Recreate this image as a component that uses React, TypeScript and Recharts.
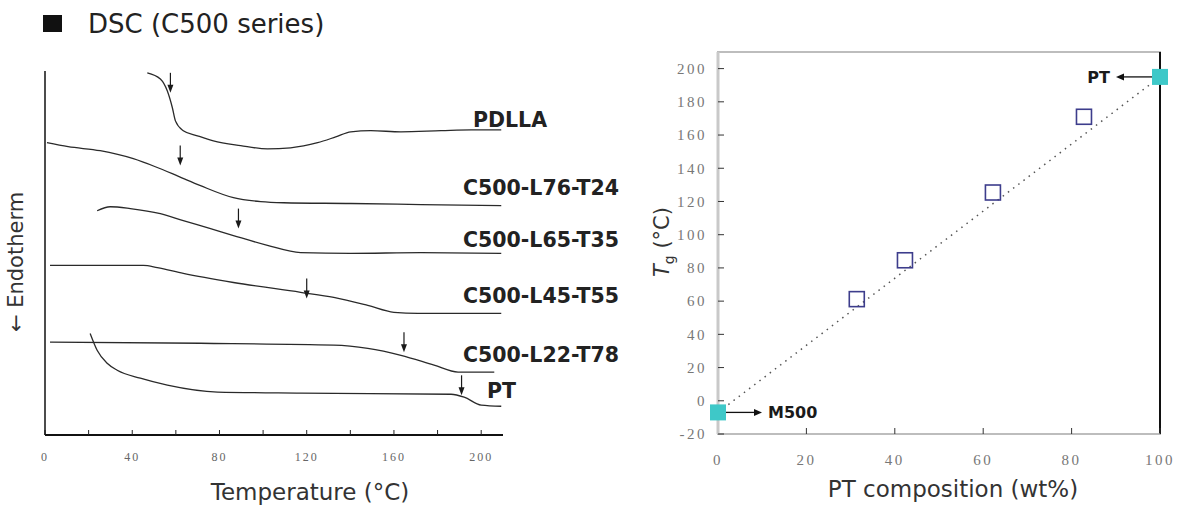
import React from 'react';
import { ComposedChart, Line, Scatter, XAxis, YAxis, ReferenceLine, ReferenceArea } from 'recharts';

// left panel: DSC traces, temperature (°C) vs heat flow (arbitrary units, stacked)
const curveNames = ['PDLLA', 'C500-L76-T24', 'C500-L65-T35', 'C500-L45-T55', 'C500-L22-T78', 'PT'];

const pdllaT = [46.9, 52.9, 56.1, 58.4, 59.8, 63.4, 69.9, 77.2, 89.7, 102, 112.6, 125, 133.3, 140.2, 149.4, 163.2, 181.6, 195.4, 209.2];
const pdllaHF = [99.5, 97.8, 94.5, 89.9, 86.3, 83.6, 82.2, 80.8, 79.5, 78.6, 78.9, 80.3, 81.9, 83.3, 83.6, 83.3, 83.6, 83.8, 83.8];

const l76T = [0.9, 10.6, 25.3, 40.5, 50.6, 60.7, 71.3, 86.4, 98.9, 109.4, 140.2, 172.4, 209.2];
const l76HF = [80.3, 79.2, 78.1, 75.9, 73.7, 71.2, 68.5, 65.2, 64.1, 63.8, 63.6, 63.3, 63.0];

const l65T = [23.9, 29.9, 39.1, 52.9, 63.4, 75.9, 86.4, 102, 117.2, 140.2, 172.4, 209.2];
const l65HF = [61.6, 62.7, 62.2, 60.8, 58.9, 56.7, 54.8, 52.1, 50.1, 49.9, 50.1, 49.9];

const l45T = [2.3, 45.1, 51.5, 63.4, 86.4, 117.2, 132.4, 148, 160, 171, 209.2];
const l45HF = [46.6, 46.6, 46.0, 44.4, 41.9, 39.2, 37.8, 35.6, 33.7, 33.4, 33.4];

const l22T = [2.3, 71.3, 132.4, 148, 163.2, 178.4, 189.4, 206];
const l22HF = [25.5, 25.2, 24.7, 23.8, 21.9, 19.2, 17.3, 17.3];

const ptT = [20.7, 23.9, 28.5, 33.1, 43.7, 56.1, 79.1, 117.2, 186.2, 192.2, 200, 209.2];
const ptHF = [27.9, 23.3, 19.7, 17.8, 15.6, 13.7, 11.8, 11.5, 11.2, 10.4, 8.2, 7.9];

// Tg arrows on each trace
const tgArrowT = [57.5, 62, 88.7, 120, 164.6, 191];
const tgArrowHF = [99.5, 79.5, 62.2, 43.0, 28.2, 16.4];

const tempTicks = [0, 20, 40, 60, 80, 100, 120, 140, 160, 180, 200];

// right panel: Tg vs PT composition
const blendWt = [31.4, 42.3, 62.2, 82.8];
const blendTg = [61.2, 84.6, 125.4, 171];
const pureNames = ['M500', 'PT'];
const pureWt = [0, 100];
const pureTg = [-7, 195];
const fitWt = [0, 100];
const fitTg = [-7, 195];
const wtTicks = [0, 20, 40, 60, 80, 100];
const tgTicks = [-20, 0, 20, 40, 60, 80, 100, 120, 140, 160, 180, 200];

const zip = (t: number[], v: number[]) => t.map((x, i) => ({ t: x, v: v[i] }));

const curves = [
  zip(pdllaT, pdllaHF),
  zip(l76T, l76HF),
  zip(l65T, l65HF),
  zip(l45T, l45HF),
  zip(l22T, l22HF),
  zip(ptT, ptHF),
];
const arrows = zip(tgArrowT, tgArrowHF);

const blendData = blendWt.map((x, i) => ({ x, y: blendTg[i] }));
const pureData = pureWt.map((x, i) => ({ x, y: pureTg[i], name: pureNames[i] }));
const fitData = fitWt.map((x, i) => ({ x, y: fitTg[i] }));

const TgArrow = (p: any) => {
  const { cx, cy } = p;
  return (
    <g>
      <line x1={cx} y1={cy} x2={cx} y2={cy + 14} stroke="#1a1a1a" strokeWidth={1.2} />
      <path d={`M${cx - 3},${cy + 12} L${cx + 3},${cy + 12} L${cx},${cy + 20} Z`} fill="#1a1a1a" />
    </g>
  );
};

const OpenSquare = (p: any) => {
  const { cx, cy } = p;
  return <rect x={cx - 7.5} y={cy - 7.5} width={15} height={15} fill="none" stroke="#3d3d8c" strokeWidth={1.6} />;
};

const PureMark = (p: any) => {
  const { cx, cy, payload } = p;
  const dir = payload.x > 50 ? -1 : 1;
  const tip = cx + dir * 44;
  return (
    <g>
      <line x1={cx + dir * 8} y1={cy} x2={tip - dir * 6} y2={cy} stroke="#111" strokeWidth={1.3} />
      <path d={`M${tip},${cy} L${tip - dir * 8},${cy - 3.5} L${tip - dir * 8},${cy + 3.5} Z`} fill="#111" />
      <rect x={cx - 8} y={cy - 8} width={16} height={16} fill="#3ec8c8" />
      <text
        x={tip + dir * 6}
        y={cy + 6}
        textAnchor={dir < 0 ? 'end' : 'start'}
        fontFamily="DejaVu Sans"
        fontWeight="bold"
        fontSize={16}
        fill="#1a1a1a"
      >
        {payload.name}
      </text>
    </g>
  );
};

export default function App() {
  const labelStyle = { fontFamily: 'DejaVu Sans', fontWeight: 'bold' as const, fontSize: 20.5, fill: '#222' };
  return (
    <div style={{ position: 'absolute', left: 0, top: 0, width: 1180, height: 514, background: '#fff', fontFamily: 'DejaVu Sans' }}>
      <div style={{ position: 'absolute', left: 0, top: 0 }}>
        <ComposedChart width={640} height={514} margin={{ top: 71, right: 137, bottom: 49, left: 0 }}>
          <XAxis
            type="number"
            dataKey="t"
            domain={[0, 210]}
            ticks={tempTicks}
            tickFormatter={(v: number) => (v % 40 === 0 ? String(v) : '')}
            height={30}
            tickSize={-5}
            tickMargin={22}
            tick={{ fontFamily: 'Liberation Serif', fontSize: 12, fill: '#666', letterSpacing: 2 }}
            tickLine={{ stroke: '#222' }}
            axisLine={{ stroke: '#111', strokeWidth: 2 }}
          />
          <YAxis
            type="number"
            dataKey="v"
            domain={[0, 100]}
            width={45}
            tick={false}
            tickLine={false}
            axisLine={{ stroke: '#111', strokeWidth: 1.5 }}
          />
          {curves.map((d, i) => (
            <Line
              key={curveNames[i]}
              data={d}
              dataKey="v"
              type="monotone"
              stroke="#2a2a2a"
              strokeWidth={1.3}
              dot={false}
              isAnimationActive={false}
            />
          ))}
          <Scatter data={arrows} dataKey="v" shape={TgArrow} isAnimationActive={false} />
        </ComposedChart>
      </div>

      <div style={{ position: 'absolute', left: 640, top: 0 }}>
        <ComposedChart width={540} height={514} margin={{ top: 52, right: 20, bottom: 50, left: 0 }}>
          <XAxis
            type="number"
            dataKey="x"
            domain={[0, 100]}
            ticks={wtTicks}
            height={30}
            tickSize={-6}
            tickMargin={26}
            tick={{ fontFamily: 'Liberation Serif', fontSize: 15, fill: '#777', letterSpacing: 2.5 }}
            tickLine={{ stroke: '#333' }}
            axisLine={{ stroke: '#bdbdbd', strokeWidth: 2 }}
          />
          <YAxis
            type="number"
            dataKey="y"
            domain={[-20, 210]}
            ticks={tgTicks}
            width={78}
            tickSize={-6}
            tickMargin={17}
            tick={{ fontFamily: 'Liberation Serif', fontSize: 15, fill: '#777', letterSpacing: 2.5 }}
            tickLine={{ stroke: '#333' }}
            axisLine={{ stroke: '#c9c9c9', strokeWidth: 3 }}
          />
          <ReferenceArea x1={0} x2={100} y1={-20} y2={210} fill="none" fillOpacity={0} stroke="#bdbdbd" strokeWidth={2} ifOverflow="visible" />
          <ReferenceLine x={100} stroke="#111" strokeWidth={2} ifOverflow="visible" />
          <Line
            data={fitData}
            dataKey="y"
            type="linear"
            stroke="#555"
            strokeWidth={1.5}
            strokeDasharray="1.5 5"
            dot={false}
            isAnimationActive={false}
          />
          <Scatter data={blendData} dataKey="y" shape={OpenSquare} isAnimationActive={false} />
          <Scatter data={pureData} dataKey="y" shape={PureMark} isAnimationActive={false} />
        </ComposedChart>
      </div>

      <svg width={1180} height={514} style={{ position: 'absolute', left: 0, top: 0, pointerEvents: 'none' }}>
        <rect x={43} y={15} width={19} height={17} fill="#111" />
        <text x={88} y={33} fontFamily="DejaVu Sans" fontSize={26} fill="#222">
          DSC (C500 series)
        </text>

        <text x={473} y={127} {...labelStyle}>{curveNames[0]}</text>
        <text x={463} y={195} {...labelStyle}>{curveNames[1]}</text>
        <text x={463} y={247} {...labelStyle}>{curveNames[2]}</text>
        <text x={463} y={303} {...labelStyle}>{curveNames[3]}</text>
        <text x={463} y={362} {...labelStyle}>{curveNames[4]}</text>
        <text x={487} y={398} {...labelStyle}>{curveNames[5]}</text>

        <text x={310} y={500} textAnchor="middle" fontFamily="DejaVu Sans" fontSize={23} fill="#333">
          Temperature (°C)
        </text>
        <text transform="translate(23,262) rotate(-90)" textAnchor="middle" fontFamily="DejaVu Sans" fontSize={21} fill="#333">
          ← Endotherm
        </text>

        <text x={953} y={497} textAnchor="middle" fontFamily="DejaVu Sans" fontSize={23} fill="#333">
          PT composition (wt%)
        </text>
        <text transform="translate(669,242) rotate(-90)" textAnchor="middle" fontFamily="DejaVu Sans" fontSize={21} fill="#333">
          <tspan fontStyle="italic">T</tspan>
          <tspan fontSize={14} dy={5}>g</tspan>
          <tspan dy={-5}> (°C)</tspan>
        </text>
      </svg>
    </div>
  );
}
